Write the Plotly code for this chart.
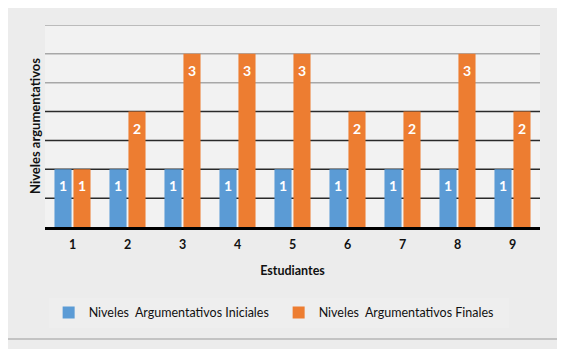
import plotly.graph_objects as go

estudiantes = ["1", "2", "3", "4", "5", "6", "7", "8", "9"]
iniciales = [1, 1, 1, 1, 1, 1, 1, 1, 1]
finales = [1, 2, 3, 3, 3, 2, 2, 3, 2]
grid_dark = [0.5, 1.0, 1.5, 2.0]
grid_light = [2.5, 3.0, 3.5]

FONT = "Lato"

fig = go.Figure()
for name, vals, color in [
    ("Niveles  Argumentativos Iniciales", iniciales, "#5b9bd5"),
    ("Niveles  Argumentativos Finales", finales, "#ed7d31"),
]:
    fig.add_trace(go.Bar(
        x=estudiantes, y=vals, name=name,
        marker=dict(color=color, line=dict(width=0)),
        text=["\u00a0<br><span style='font-size:14px'>" + str(v) + "</span>" for v in vals],
        textposition="inside", insidetextanchor="end",
        textfont=dict(color="white", size=8.5, family=FONT, weight="bold"),
        textangle=0,
    ))

shapes = []
for g in grid_dark:
    shapes.append(dict(type="line", xref="paper", yref="y", x0=0, x1=1, y0=g, y1=g,
                       line=dict(color="#2a2a2a", width=1.5), layer="below"))
for g in grid_light:
    shapes.append(dict(type="line", xref="paper", yref="y", x0=0, x1=1, y0=g, y1=g,
                       line=dict(color="#a8a8a8", width=1.5), layer="below"))
shapes.append(dict(type="rect", xref="paper", yref="paper", x0=-0.08, x1=1.04, y0=-0.555, y1=1.10,
                   line=dict(color="#b5b5b5", width=1.5), layer="below"))

fig.update_layout(
    width=565, height=349,
    margin=dict(l=37, r=33, t=17, b=130, autoexpand=False),
    paper_bgcolor="#ececec",
    plot_bgcolor="#f2f2f2",
    barmode="group", bargap=0.31, bargroupgap=0.1,
    shapes=shapes,
    font=dict(family=FONT, color="#111111"),
    xaxis=dict(
        title=dict(text="<b>Estudiantes</b>", font=dict(size=12.5, family=FONT), standoff=16),
        tickfont=dict(size=12.5, family=FONT, weight="bold"),
        ticklabelstandoff=4,
        showline=True, linecolor="#000000", linewidth=3,
        ticks="", showgrid=False, automargin=False,
    ),
    yaxis=dict(
        title=dict(text="<b>Niveles argumentativos</b>", font=dict(size=13, family=FONT), standoff=0),
        range=[0, 3.5], dtick=0.5, showticklabels=False, showgrid=False,
        zeroline=False, ticks="", automargin=False,
    ),
    legend=dict(
        orientation="h", x=0.472, xanchor="center", y=-0.425, yanchor="middle",
        bgcolor="#eeeeee", font=dict(size=12.5, family=FONT),
        itemwidth=30, entrywidth=185, entrywidthmode="pixels",
    ),
    showlegend=True,
)

fig.write_html("out.html")
